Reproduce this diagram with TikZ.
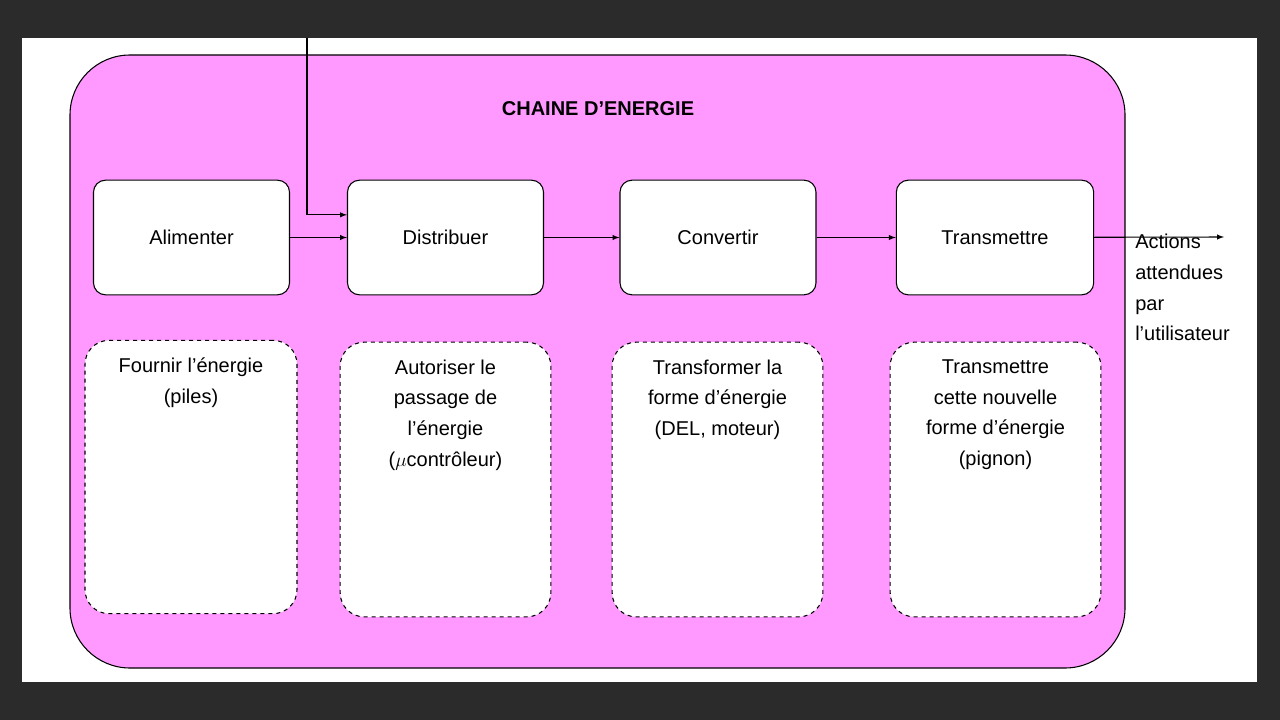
\documentclass[tikz,border=0pt]{standalone}
\usepackage{fontspec}
\setmainfont{Liberation Sans}
\begin{document}
\begin{tikzpicture}[x=0.75pt,y=-0.75pt,
  blk/.style={draw=black,thick,fill=white,rounded corners=9pt,inner sep=0pt},
  dsh/.style={draw=black,thick,dashed,fill=white,rounded corners=18pt,inner sep=0pt},
  arr/.style={-latex,thick},
  every node/.style={font=\fontsize{15}{23}\selectfont}]
\useasboundingbox (0,0) rectangle (1280,720);
\fill[black!83] (0,0) rectangle (1280,720);
\fill[white] (22,38) rectangle (1257,682);
\draw[thick,fill={rgb,255:red,255;green,153;blue,255},rounded corners=45pt] (70,55) rectangle (1125,668);
\node[font=\fontsize{15}{18}\selectfont\bfseries] (title) at (598,109) {CHAINE D’ENERGIE};
\node[blk,minimum width=147pt,minimum height=86pt] (a) at (191.5,237.5) {Alimenter};
\node[blk,minimum width=147pt,minimum height=86pt] (b) at (445.5,237.5) {Distribuer};
\node[blk,minimum width=147pt,minimum height=86pt] (c) at (718,237.5) {Convertir};
\node[blk,minimum width=148pt,minimum height=86pt] (d) at (995,237.5) {Transmettre};
\node[dsh,minimum width=159pt,minimum height=205pt] (da) at (191,477) {};
\node[dsh,minimum width=158pt,minimum height=206pt] (db) at (445.5,479.5) {};
\node[dsh,minimum width=158pt,minimum height=206pt] (dc) at (717.5,479.5) {};
\node[dsh,minimum width=158pt,minimum height=206pt] (dd) at (995.5,479.5) {};
\node[anchor=north,align=center] at ([yshift=-10pt]da.north) {Fournir l’énergie\\(piles)};
\node[anchor=north,align=center] at ([yshift=-10pt]db.north) {Autoriser le\\passage de\\l’énergie\\($\mu$contrôleur)};
\node[anchor=north,align=center] at ([yshift=-10pt]dc.north) {Transformer la\\forme d’énergie\\(DEL, moteur)};
\node[anchor=north,align=center] at ([yshift=-10pt]dd.north) {Transmettre\\cette nouvelle\\forme d’énergie\\(pignon)};
\coordinate (top) at (307,38);
\coordinate (out) at (1224,237);
\draw[arr] (top) |- ([yshift=17pt]b.west);
\draw[arr] (a) -- (b);
\draw[arr] (b) -- (c);
\draw[arr] (c) -- (d);
\draw[arr] (d) -- (out);
\node[anchor=north west,align=left,inner sep=0pt] (act) at (1135,234) {Actions\\attendues\\par\\l’utilisateur};
\end{tikzpicture}
\end{document}
